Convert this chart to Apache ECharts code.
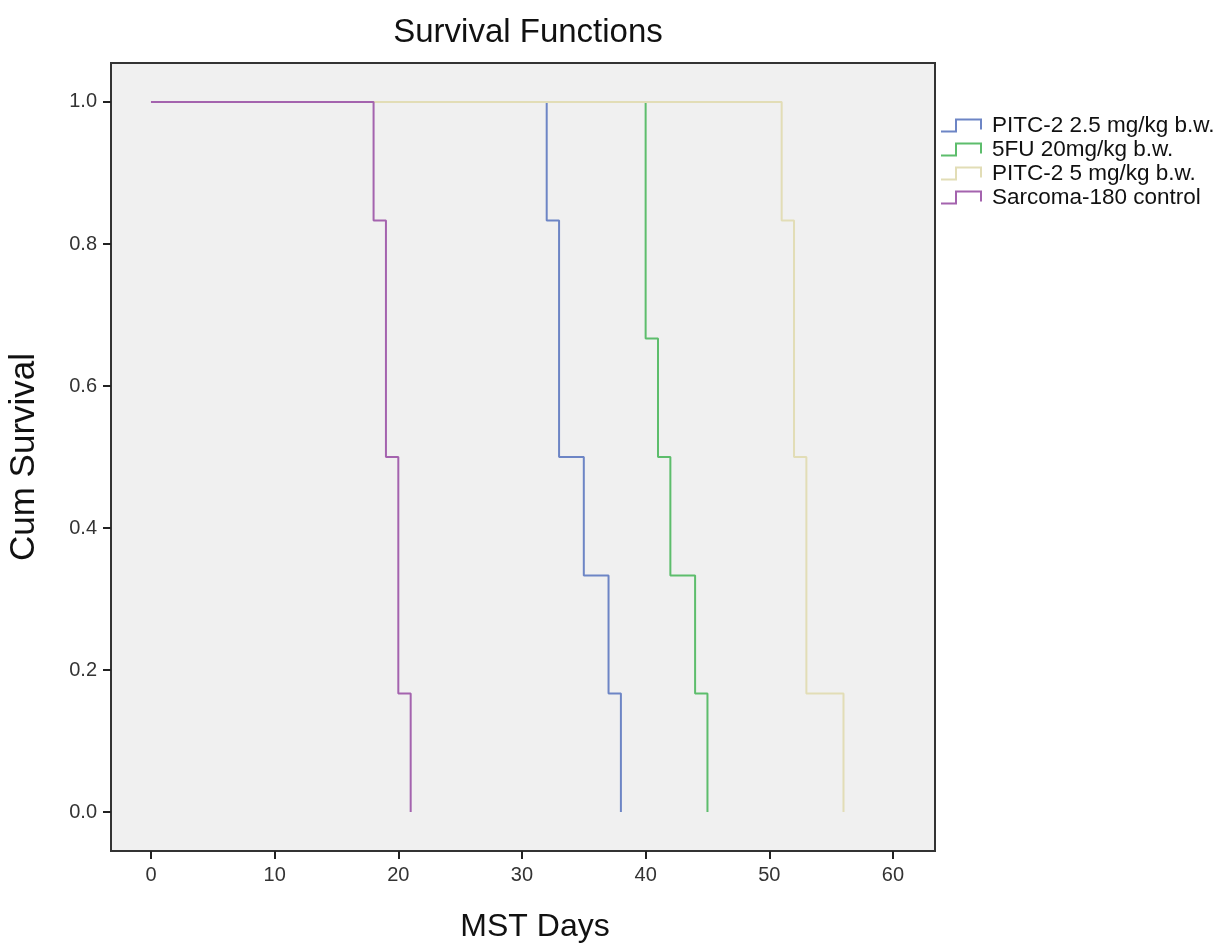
<!DOCTYPE html>
<html>
<head>
<meta charset="utf-8">
<script src="https://cdn.jsdelivr.net/npm/echarts@6/dist/echarts.min.js"></script>
<style>html,body{margin:0;padding:0;background:#fff;}#c{width:1222px;height:944px;}</style>
</head>
<body>
<div id="c"></div>
<script>
// Kaplan-Meier step data (event times in days, cumulative survival)
const seriesNames = ['PITC-2 2.5 mg/kg b.w.', '5FU 20mg/kg b.w.', 'PITC-2 5 mg/kg b.w.', 'Sarcoma-180 control'];
const pitc25Days = [0, 32, 33, 35, 37, 38];
const pitc25Surv = [1.0, 0.833, 0.5, 0.333, 0.167, 0.0];
const fuDays = [0, 40, 41, 42, 44, 45];
const fuSurv = [1.0, 0.667, 0.5, 0.333, 0.167, 0.0];
const pitc5Days = [0, 51, 52, 53, 56];
const pitc5Surv = [1.0, 0.833, 0.5, 0.167, 0.0];
const controlDays = [0, 18, 19, 20, 21];
const controlSurv = [1.0, 0.833, 0.5, 0.167, 0.0];
const xTicks = [0, 10, 20, 30, 40, 50, 60];
const yTicks = [0.0, 0.2, 0.4, 0.6, 0.8, 1.0];

const colors = ['#6d85c5', '#5dbd6c', '#e2ddb6', '#a463ae'];
const pairs = (d, s) => d.map((v, i) => [v, s[i]]);
const allData = [pairs(pitc25Days, pitc25Surv), pairs(fuDays, fuSurv), pairs(pitc5Days, pitc5Surv), pairs(controlDays, controlSurv)];

const chart = echarts.init(document.getElementById('c'));
const font = '"Liberation Sans", Arial, sans-serif';
chart.setOption({
  animation: false,
  title: {
    text: 'Survival Functions', left: 523, top: 11, textAlign: 'center',
    textStyle: { fontFamily: font, fontSize: 33, fontWeight: 'normal', color: '#111' }
  },
  legend: {
    orient: 'vertical', left: 940, top: 114, padding: 0, itemGap: 1, itemWidth: 40, itemHeight: 12,
    icon: 'path://M0,12 L15,12 L15,0 L40,0 L40,10',
    textStyle: { fontFamily: font, fontSize: 22.5, lineHeight: 22.5, color: '#111', padding: [0, 0, 0, 6] },
    data: seriesNames.map((n, i) => ({ name: n, itemStyle: { color: 'transparent', borderColor: colors[i], borderWidth: 2 } }))
  },
  grid: {
    left: 111, right: 287, top: 63, bottom: 93, show: true, containLabel: false, outerBoundsMode: 'none',
    backgroundColor: '#f0f0f0', borderColor: '#333', borderWidth: 2
  },
  xAxis: {
    type: 'value', min: -3.234, max: 63.40,
    name: 'MST Days', nameLocation: 'middle', nameGap: 60,
    nameTextStyle: { fontFamily: font, fontSize: 32, color: '#111', padding: [0, 0, 0, 24] },
    axisLine: { show: false, onZero: false },
    splitLine: { show: false },
    axisTick: { show: true, customValues: xTicks, length: 8, lineStyle: { color: '#222', width: 2 } },
    axisLabel: { customValues: xTicks, fontFamily: font, fontSize: 20, color: '#333', margin: 14 }
  },
  yAxis: {
    type: 'value', min: -0.0549, max: 1.0549,
    name: 'Cum Survival', nameLocation: 'middle', nameGap: 69, nameRotate: 90,
    nameTextStyle: { fontFamily: font, fontSize: 35, color: '#111' },
    axisLine: { show: false, onZero: false },
    splitLine: { show: false },
    axisTick: { show: true, customValues: yTicks, length: 8, lineStyle: { color: '#222', width: 2 } },
    axisLabel: { customValues: yTicks, fontFamily: font, fontSize: 20, color: '#333', margin: 14,
      formatter: v => v.toFixed(1) }
  },
  series: allData.map((d, i) => ({
    name: seriesNames[i], type: 'line', step: 'end', data: d,
    showSymbol: false, symbol: 'none', color: colors[i],
    lineStyle: { width: 2, color: colors[i] }
  }))
});
</script>
</body>
</html>
